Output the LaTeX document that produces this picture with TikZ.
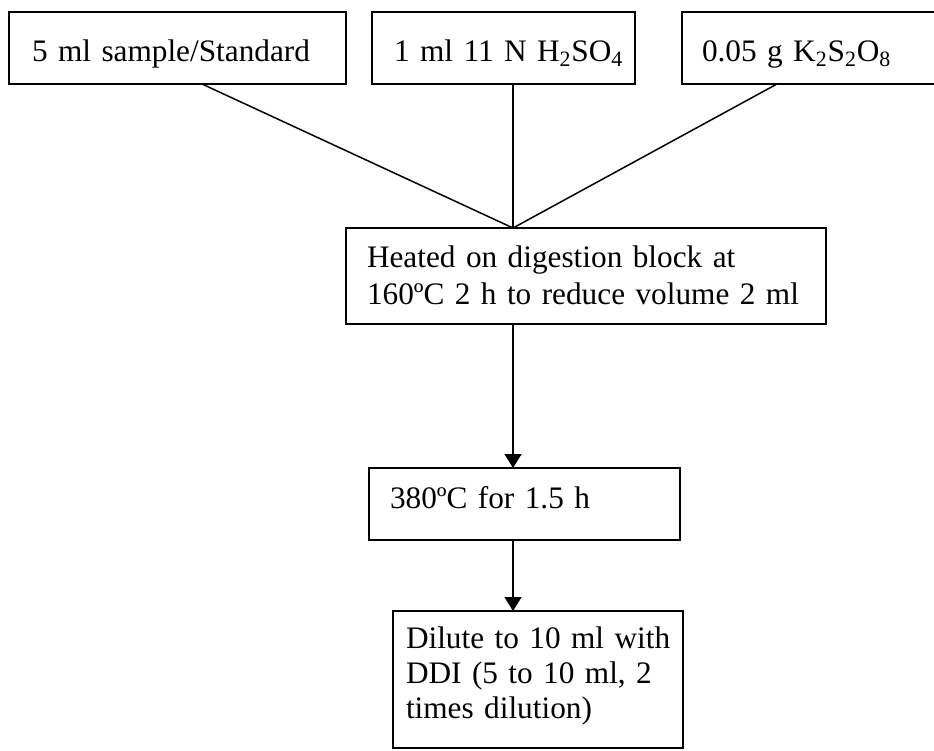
\documentclass[tikz,border=0pt]{standalone}
\usepackage{fontspec}
\setmainfont{Liberation Serif}
\usetikzlibrary{arrows.meta}

\begin{document}
\begin{tikzpicture}[
    box/.style={draw, line width=1.1pt, anchor=north west, align=left, inner ysep=0pt, outer sep=0pt, font=\fontsize{17.8}{21}\selectfont},
    link/.style={line width=0.85pt},
    flow/.style={line width=0.85pt, -{Triangle[width=0.34cm, length=0.28cm]}}
]
    \useasboundingbox (0,0) rectangle (18.68,-15.02);

    % what goes into the tube
    \node[box, inner xsep=0.46cm, text width=5.82cm, text height=1.0cm, text depth=0.44cm] (sample) at (0.18,-0.24) {\mbox{5 ml sample/Standard}};
    \node[box, inner xsep=0.44cm, text width=4.38cm, text height=1.0cm, text depth=0.44cm] (acid) at (7.44,-0.24) {\mbox{1 ml 11 N H\textsubscript{2}SO\textsubscript{4}}};
    \node[box, inner xsep=0.4cm, text width=5.2cm, text height=1.0cm, text depth=0.44cm] (persulf) at (13.64,-0.24) {\mbox{0.05 g K\textsubscript{2}S\textsubscript{2}O\textsubscript{8}}};

    % digestion steps
    \node[box, inner xsep=0.42cm, text width=8.76cm, text height=0.8cm, text depth=1.12cm] (heat) at (6.92,-4.56) {\mbox{Heated on digestion block at}\\\mbox{160ºC 2 h to reduce volume 2 ml}};
    \node[box, inner xsep=0.42cm, text width=5.38cm, text height=0.8cm, text depth=0.64cm] (cool) at (7.38,-9.36) {\mbox{380ºC for 1.5 h}};
    \node[box, inner xsep=0.26cm, text width=5.28cm, text height=0.74cm, text depth=2.0cm, font=\fontsize{17.8}{20}\selectfont] (dil) at (7.86,-12.22) {\mbox{Dilute to 10 ml with}\\\mbox{DDI (5 to 10 ml, 2}\\\mbox{times dilution)}};

    \coordinate (join) at ([xshift=3.34cm]heat.north west);

    \draw[link] ([xshift=3.86cm]sample.south west) -- (join);
    \draw[link] (join |- acid.south) -- (join);
    \draw[link] ([xshift=1.9cm]persulf.south west) -- (join);

    \draw[flow] (join |- heat.south) -- (join |- cool.north);
    \draw[flow] (join |- cool.south) -- (join |- dil.north);
\end{tikzpicture}
\end{document}
